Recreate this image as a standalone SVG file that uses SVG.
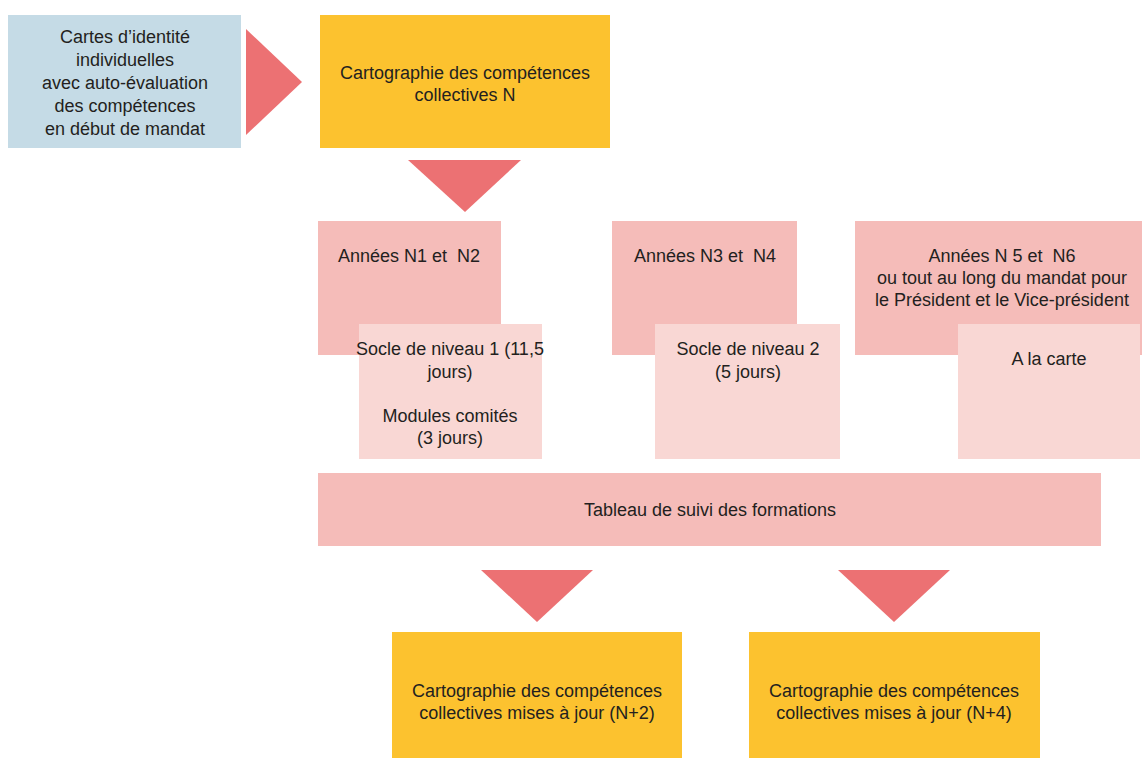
<svg xmlns="http://www.w3.org/2000/svg" width="1142" height="758" viewBox="0 0 1142 758">
<style>
text{font-family:"Liberation Sans",Arial,sans-serif;font-size:18px;fill:#231f20;text-anchor:middle;white-space:pre}
.blue{fill:#c5dbe6}
.yellow{fill:#fcc22f}
.pink{fill:#f5bcb9}
.light{fill:#f9d7d4}
.arrow{fill:#ec7173}
</style>
<rect width="1142" height="758" fill="#ffffff"/>
<g id="connectors">
<polygon class="arrow" points="246,29 302,82 246,135"/>
<polygon class="arrow" points="408,160 521,160 465,212"/>
<polygon class="arrow" points="481,570 593,570 537,622"/>
<polygon class="arrow" points="838,570 950,570 894,622"/>
</g>
<g id="cartes">
<rect class="blue" x="8" y="15" width="233" height="133"/>
<text x="125" y="43">Cartes d’identité</text>
<text x="125" y="66">individuelles</text>
<text x="125" y="89">avec auto-évaluation</text>
<text x="125" y="112">des compétences</text>
<text x="125" y="135">en début de mandat</text>
</g>
<g id="carto-n">
<rect class="yellow" x="320" y="15" width="290" height="133"/>
<text x="465" y="79">Cartographie des compétences</text>
<text x="465" y="101">collectives N</text>
</g>
<g id="annees-n1n2">
<rect class="pink" x="318" y="221" width="183" height="134"/>
<text x="409" y="262" xml:space="preserve">Années N1 et  N2</text>
</g>
<g id="socle1">
<rect class="light" x="359" y="324" width="183" height="135"/>
<text x="450" y="355">Socle de niveau 1 (11,5</text>
<text x="450" y="378">jours)</text>
<text x="450" y="422">Modules comités</text>
<text x="450" y="444">(3 jours)</text>
</g>
<g id="annees-n3n4">
<rect class="pink" x="612" y="221" width="185" height="134"/>
<text x="705" y="262" xml:space="preserve">Années N3 et  N4</text>
</g>
<g id="socle2">
<rect class="light" x="655" y="324" width="185" height="135"/>
<text x="748" y="355">Socle de niveau 2</text>
<text x="748" y="378">(5 jours)</text>
</g>
<g id="annees-n5n6">
<rect class="pink" x="855" y="221" width="287" height="134"/>
<text x="1002" y="262" xml:space="preserve">Années N 5 et  N6</text>
<text x="1002" y="284">ou tout au long du mandat pour</text>
<text x="1002" y="306">le Président et le Vice-président</text>
</g>
<g id="a-la-carte">
<rect class="light" x="958" y="324" width="182" height="135"/>
<text x="1049" y="365">A la carte</text>
</g>
<g id="tableau">
<rect class="pink" x="318" y="473" width="783" height="73"/>
<text x="710" y="516">Tableau de suivi des formations</text>
</g>
<g id="carto-n2">
<rect class="yellow" x="392" y="632" width="290" height="126"/>
<text x="537" y="697">Cartographie des compétences</text>
<text x="537" y="719">collectives mises à jour (N+2)</text>
</g>
<g id="carto-n4">
<rect class="yellow" x="749" y="632" width="291" height="126"/>
<text x="894" y="697">Cartographie des compétences</text>
<text x="894" y="719">collectives mises à jour (N+4)</text>
</g>
</svg>
